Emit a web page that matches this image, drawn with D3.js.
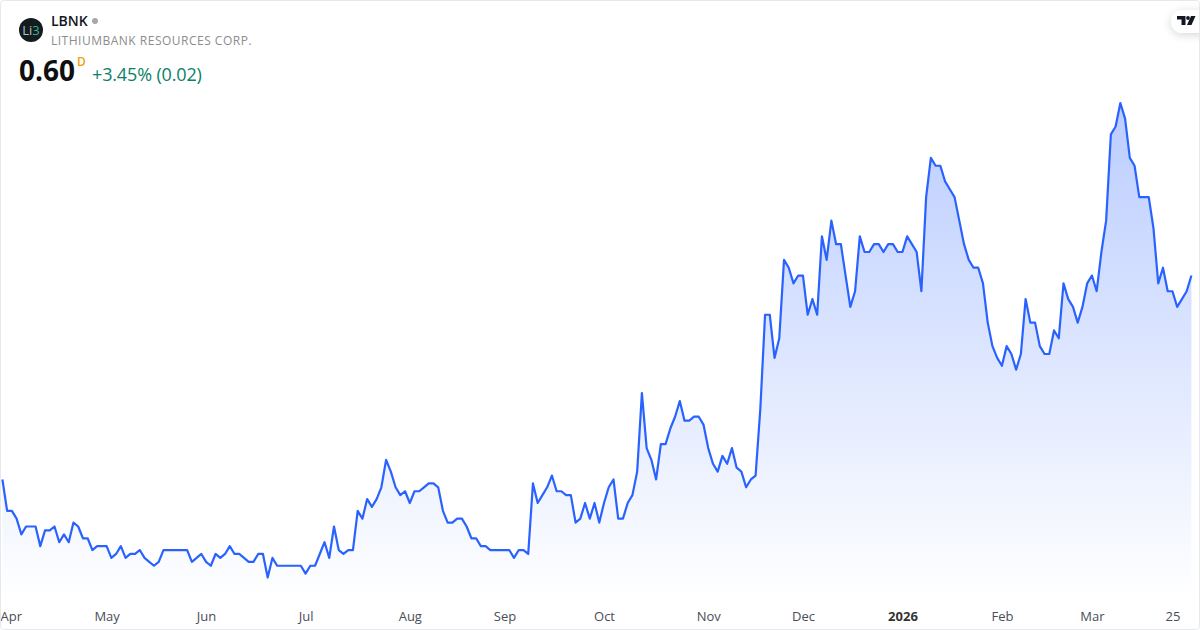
<!DOCTYPE html>
<html lang="en">
<head>
   <meta charset="UTF-8">
   <title>LBNK</title>
   <style>
      html, body {
         margin: 0;
         padding: 0;
         background: white;
      }

      text {
         font-family: "Open Sans", "Noto Sans", sans-serif;
      }

      .tick text {
         font-size: 13px;
         fill: #4a4d57;
      }

      .tick text.year {
         font-weight: 700;
         fill: #333;
      }
   </style>

   <script src="https://cdn.jsdelivr.net/npm/d3@7"></script>
</head>
<body>
   <div class="d3"></div>
   <script>
      // closing prices, one per trading day
      const closes = [
         0.34, 0.30, 0.30, 0.29, 0.27, 0.28, 0.28, 0.28, 0.255, 0.275,
         0.275, 0.28, 0.26, 0.27, 0.26, 0.285, 0.28, 0.265, 0.265, 0.25,
         0.255, 0.255, 0.255, 0.24, 0.245, 0.255, 0.24, 0.245, 0.245, 0.25,
         0.24, 0.235, 0.23, 0.235, 0.25, 0.25, 0.25, 0.25, 0.25, 0.25,
         0.235, 0.24, 0.245, 0.235, 0.23, 0.245, 0.24, 0.245, 0.255, 0.245,
         0.245, 0.24, 0.235, 0.235, 0.245, 0.245, 0.215, 0.24, 0.23, 0.23,
         0.23, 0.23, 0.23, 0.23, 0.22, 0.23, 0.23, 0.245, 0.26, 0.24,
         0.28, 0.25, 0.245, 0.25, 0.25, 0.30, 0.29, 0.315, 0.305, 0.315,
         0.33, 0.365, 0.35, 0.33, 0.32, 0.325, 0.31, 0.325, 0.325, 0.33,
         0.335, 0.335, 0.33, 0.30, 0.285, 0.285, 0.29, 0.29, 0.28, 0.265,
         0.265, 0.255, 0.255, 0.25, 0.25, 0.25, 0.25, 0.25, 0.24, 0.25,
         0.25, 0.245, 0.335, 0.31, 0.32, 0.33, 0.345, 0.325, 0.325, 0.32,
         0.32, 0.285, 0.29, 0.31, 0.29, 0.31, 0.285, 0.31, 0.33, 0.34,
         0.29, 0.29, 0.31, 0.32, 0.35, 0.45, 0.38, 0.365, 0.34, 0.385,
         0.385, 0.405, 0.42, 0.44, 0.415, 0.415, 0.42, 0.42, 0.41, 0.38,
         0.36, 0.35, 0.37, 0.36, 0.38, 0.355, 0.35, 0.33, 0.34, 0.345,
         0.43, 0.55, 0.55, 0.495, 0.52, 0.62, 0.61, 0.59, 0.60, 0.60,
         0.55, 0.57, 0.55, 0.65, 0.62, 0.67, 0.64, 0.64, 0.60, 0.56,
         0.58, 0.65, 0.63, 0.63, 0.64, 0.64, 0.63, 0.64, 0.64, 0.63,
         0.63, 0.65, 0.64, 0.63, 0.58, 0.70, 0.75, 0.74, 0.74, 0.72,
         0.71, 0.70, 0.67, 0.64, 0.62, 0.61, 0.61, 0.59, 0.54, 0.51,
         0.495, 0.485, 0.51, 0.50, 0.48, 0.50, 0.57, 0.54, 0.54, 0.51,
         0.50, 0.50, 0.53, 0.52, 0.59, 0.57, 0.56, 0.54, 0.56, 0.59,
         0.60, 0.58, 0.63, 0.67, 0.78, 0.79, 0.82, 0.80, 0.75, 0.74,
         0.70, 0.70, 0.70, 0.66, 0.59, 0.61, 0.58, 0.58, 0.56, 0.57,
         0.58, 0.60
      ]

      // axis labels and the trading day each one sits on
      const tickLabels = ['Apr', 'May', 'Jun', 'Jul', 'Aug', 'Sep', 'Oct', 'Nov', 'Dec', '2026', 'Feb', 'Mar', '25']
      const tickDays = [0, 22, 43, 64, 86, 106, 127, 149, 169, 190, 211, 230, 247]

      const symbol = 'LBNK'
      const companyName = 'LITHIUMBANK RESOURCES CORP.'
      const lastPrice = '0.60'
      const priceChange = '+3.45% (0.02)'

      const WIDTH = 1200
      const HEIGHT = 630

      const svg = d3.select('.d3')
         .append('svg')
         .attr('width', WIDTH)
         .attr('height', HEIGHT)
         .style('display', 'block')

      // scales
      const x = d3.scaleLinear()
         .domain([0, closes.length - 1])
         .range([2.4, 1191.4])

      const y = d3.scaleLinear()
         .domain([0.215, 0.82])
         .range([577.5, 103])

      const BASE = 600

      // area gradient
      const defs = svg.append('defs')
      const gradient = defs.append('linearGradient')
         .attr('id', 'areaFill')
         .attr('gradientUnits', 'userSpaceOnUse')
         .attr('x1', 0).attr('x2', 0)
         .attr('y1', y(d3.max(closes)))
         .attr('y2', BASE)
      gradient.append('stop').attr('offset', 0).attr('stop-color', '#2962ff').attr('stop-opacity', 0.32)
      gradient.append('stop').attr('offset', 1).attr('stop-color', '#2962ff').attr('stop-opacity', 0)

      const shadow = defs.append('filter')
         .attr('id', 'pillShadow')
         .attr('x', '-50%').attr('y', '-50%')
         .attr('width', '200%').attr('height', '200%')
      shadow.append('feDropShadow')
         .attr('dx', 0).attr('dy', 2).attr('stdDeviation', 4)
         .attr('flood-color', '#000').attr('flood-opacity', 0.16)

      // series
      const area = d3.area()
         .x((d, i) => x(i))
         .y0(BASE)
         .y1(d => y(d))

      const line = d3.line()
         .x((d, i) => x(i))
         .y(d => y(d))

      svg.append('path')
         .datum(closes)
         .attr('d', area)
         .attr('fill', 'url(#areaFill)')

      svg.append('path')
         .datum(closes)
         .attr('d', line)
         .attr('fill', 'none')
         .attr('stroke', '#2962ff')
         .attr('stroke-width', 2.2)
         .attr('stroke-linejoin', 'round')

      // time axis
      const axis = svg.append('g')
         .attr('transform', 'translate(0, 609)')
         .call(d3.axisBottom(x)
            .tickValues(tickDays)
            .tickSize(0)
            .tickPadding(3)
            .tickFormat((d, i) => tickLabels[i]))

      axis.select('.domain').remove()
      axis.attr('font-family', null).attr('font-size', null)
      axis.selectAll('.tick text')
         .classed('year', (d, i) => tickLabels[i] === '2026')
         .each(function() {
            // the first label would hang off the left edge
            const box = this.getBBox()
            const left = x(this.__data__) + box.x
            if (left < 0) d3.select(this).attr('dx', 0 - left)
         })

      // header
      const header = svg.append('g')

      header.append('circle')
         .attr('cx', 31).attr('cy', 30).attr('r', 12)
         .attr('fill', '#131c1f')

      const logoText = header.append('text')
         .attr('x', 31).attr('y', 35)
         .attr('text-anchor', 'middle')
         .attr('font-size', 13)
      logoText.append('tspan').attr('fill', '#b9bfc0').text('Li')
      logoText.append('tspan').attr('fill', '#3fae8c').text('3')

      header.append('text')
         .attr('x', 51).attr('y', 26)
         .attr('font-size', 14)
         .attr('font-weight', 600)
         .attr('fill', '#131722')
         .text(symbol)

      header.append('circle')
         .attr('cx', 95).attr('cy', 21).attr('r', 3)
         .attr('fill', '#a8a8a8')

      header.append('text')
         .attr('x', 51).attr('y', 45)
         .attr('font-size', 12)
         .attr('letter-spacing', 0.5)
         .attr('fill', '#8c8c8c')
         .text(companyName)

      header.append('text')
         .attr('x', 19).attr('y', 81)
         .attr('font-size', 28)
         .attr('font-weight', 700)
         .attr('fill', '#0f0f0f')
         .text(lastPrice)

      header.append('text')
         .attr('x', 77).attr('y', 66)
         .attr('font-size', 12)
         .attr('font-weight', 600)
         .attr('fill', '#f59d0e')
         .text('D')

      header.append('text')
         .attr('x', 92).attr('y', 81)
         .attr('font-size', 18)
         .attr('letter-spacing', -0.15)
         .attr('fill', '#0b8068')
         .text(priceChange)

      // logo pill, top right
      const pill = svg.append('g')
      pill.append('rect')
         .attr('x', 1171).attr('y', 10)
         .attr('width', 50).attr('height', 23)
         .attr('rx', 11.5)
         .attr('fill', 'white')
         .attr('filter', 'url(#pillShadow)')
      pill.append('path')
         .attr('d', 'M1177 16h8.5v9h-4v-5.5h-4.5z')
         .attr('fill', '#131722')
      pill.append('circle')
         .attr('cx', 1188).attr('cy', 18)
         .attr('r', 1.9)
         .attr('fill', '#131722')
      pill.append('path')
         .attr('d', 'M1191 16h4.5l-4 9h-4.5z')
         .attr('fill', '#131722')

      // card border
      svg.append('rect')
         .attr('x', 0.5).attr('y', 0.5)
         .attr('width', WIDTH - 1).attr('height', HEIGHT - 1)
         .attr('rx', 3)
         .attr('fill', 'none')
         .attr('stroke', '#e6e8ee')
   </script>
</body>
</html>
